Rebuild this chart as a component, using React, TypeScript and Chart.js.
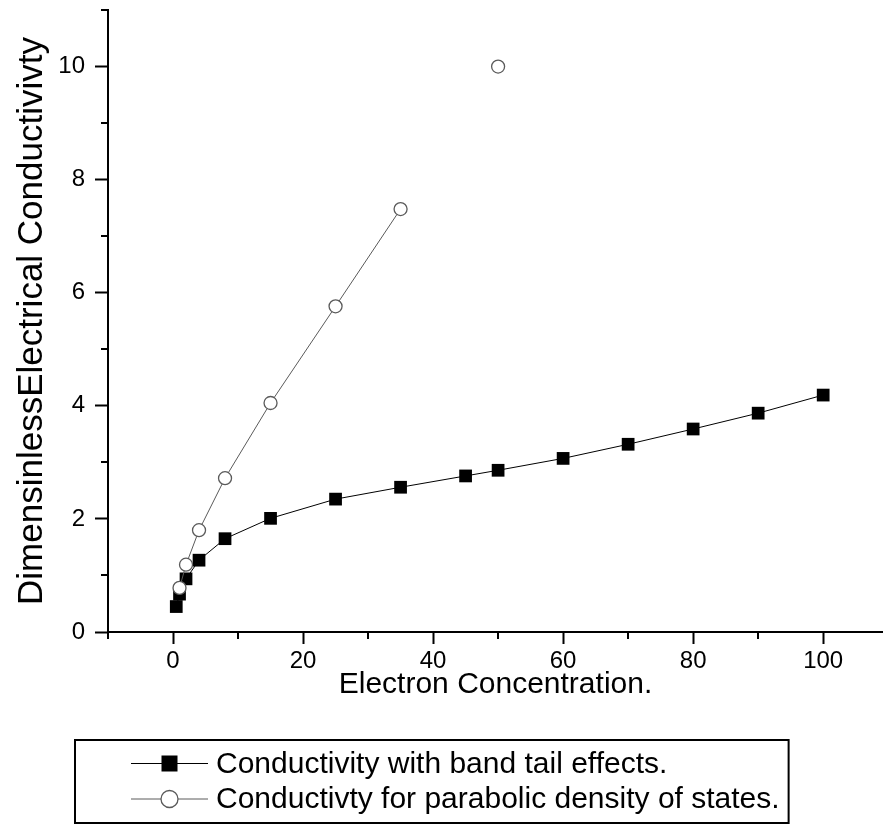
import React, { useEffect, useRef } from "react";
import { Chart, registerables } from "chart.js";

Chart.register(...registerables);

const BAND_X = [0.5, 1, 2, 4, 8, 15, 25, 35, 45, 50, 60, 70, 80, 90, 100];
const BAND_Y = [0.45, 0.67, 0.94, 1.27, 1.65, 2.01, 2.35, 2.56, 2.76, 2.86, 3.07, 3.32, 3.59, 3.87, 4.19];
const PARA_X = [1, 2, 4, 8, 15, 25, 35, 50];
const PARA_Y = [0.78, 1.19, 1.8, 2.72, 4.05, 5.76, 7.48, 10.0];

const X_MAJOR = [0, 20, 40, 60, 80, 100];
const X_MINOR = [-10, 10, 30, 50, 70, 90];
const Y_MAJOR = [0, 2, 4, 6, 8, 10];
const Y_MINOR = [1, 3, 5, 7, 9, 11];

const LEGEND_LABELS = [
  "Conductivity with band tail effects.",
  "Conductivty for parabolic density of states.",
];
const X_TITLE = "Electron Concentration.";
const Y_TITLE = "DimensinlessElectrical Conductivivty";

const FONT = "'Liberation Sans', Arial, Helvetica, sans-serif";
const GREY = "#5a5a5a";

const decorPlugin = {
  id: "decor",
  afterDraw(chart: any) {
    const ctx = chart.ctx as CanvasRenderingContext2D;
    const xs = chart.scales.x;
    const ys = chart.scales.y;
    ctx.save();
    ctx.strokeStyle = "#000";
    ctx.lineWidth = 2;
    for (const v of X_MINOR) {
      const px = Math.round(xs.getPixelForValue(v));
      ctx.beginPath();
      ctx.moveTo(px, xs.top);
      ctx.lineTo(px, xs.top + 7);
      ctx.stroke();
    }
    for (const v of Y_MINOR) {
      const py = Math.round(ys.getPixelForValue(v));
      ctx.beginPath();
      ctx.moveTo(ys.right, py);
      ctx.lineTo(ys.right - 7, py);
      ctx.stroke();
    }

    // legend
    const boxL = 75;
    const boxT = 740;
    const lineX0 = 131;
    const lineX1 = 208;
    const markX = 169.5;
    const textX = 216;
    const rows = [763.5, 799];
    ctx.font = `30px ${FONT}`;
    let maxW = 0;
    for (const t of LEGEND_LABELS) maxW = Math.max(maxW, ctx.measureText(t).width);
    const boxR = textX + maxW + 9;
    ctx.lineWidth = 2;
    ctx.strokeStyle = "#000";
    ctx.strokeRect(boxL, boxT, boxR - boxL, 823 - boxT);

    rows.forEach((ry, i) => {
      ctx.lineWidth = 1;
      ctx.strokeStyle = i === 0 ? "#000" : GREY;
      ctx.beginPath();
      ctx.moveTo(lineX0, ry);
      ctx.lineTo(lineX1, ry);
      ctx.stroke();
      if (i === 0) {
        ctx.fillStyle = "#000";
        ctx.fillRect(markX - 8, ry - 8, 16, 16);
      } else {
        ctx.beginPath();
        ctx.arc(markX, ry, 8.5, 0, Math.PI * 2);
        ctx.fillStyle = "#fff";
        ctx.fill();
        ctx.lineWidth = 1.3;
        ctx.strokeStyle = GREY;
        ctx.stroke();
      }
      ctx.fillStyle = "#000";
      ctx.textBaseline = "middle";
      ctx.textAlign = "left";
      ctx.fillText(LEGEND_LABELS[i], textX, ry + 1);
    });
    ctx.restore();
  },
};

export default function App() {
  const ref = useRef<HTMLCanvasElement | null>(null);

  useEffect(() => {
    document.body.style.margin = "0";
    const canvas = ref.current;
    if (!canvas) return;
    const bandData = BAND_X.map((x, i) => ({ x, y: BAND_Y[i] }));
    const paraData = PARA_X.map((x, i) => ({ x, y: PARA_Y[i] }));
    const chart = new Chart(canvas, {
      type: "line",
      data: {
        datasets: [
          {
            label: LEGEND_LABELS[0],
            data: bandData,
            borderColor: "#000",
            borderWidth: 1,
            pointStyle: "rect",
            pointRadius: 9,
            pointBackgroundColor: "#000",
            pointBorderColor: "#000",
            pointBorderWidth: 0,
            order: 2,
          },
          {
            label: LEGEND_LABELS[1],
            data: paraData,
            borderColor: GREY,
            borderWidth: 1,
            pointStyle: "circle",
            pointRadius: 6.5,
            pointBackgroundColor: "#fff",
            pointBorderColor: GREY,
            pointBorderWidth: 1.3,
            order: 1,
            segment: {
              borderColor: (c: any) =>
                PARA_X[c.p1DataIndex] === 50 ? "rgba(0,0,0,0)" : GREY,
            },
          },
        ],
      },
      options: {
        animation: false,
        responsive: false,
        devicePixelRatio: 1,
        layout: { autoPadding: false, padding: { left: 0, right: 0, top: 10, bottom: 124 } },
        plugins: {
          legend: { display: false },
          tooltip: { enabled: false },
        },
        scales: {
          x: {
            type: "linear",
            min: -10,
            max: 109.2,
            afterFit: (s: any) => {
              s.height = 68;
              s.paddingLeft = 0;
              s.paddingRight = 0;
            },
            afterBuildTicks: (s: any) => {
              s.ticks = [...X_MINOR, ...X_MAJOR]
                .sort((a, b) => a - b)
                .map((v) => ({ value: v }));
            },
            ticks: {
              color: "#000",
              padding: 3,
              maxRotation: 0,
              autoSkip: false,
              font: { family: FONT, size: 24 },
              callback: (v: any) => (X_MAJOR.includes(Number(v)) ? String(v) : ""),
            },
            grid: {
              drawOnChartArea: false,
              drawTicks: true,
              tickLength: 12,
              tickWidth: 2,
              tickColor: (c: any) =>
                c.tick && X_MAJOR.includes(c.tick.value) ? "#000" : "rgba(0,0,0,0)",
            },
            border: { display: true, color: "#000", width: 2 },
            title: {
              display: true,
              text: X_TITLE,
              color: "#000",
              font: { family: FONT, size: 30, lineHeight: 1 },
              padding: { top: 0, bottom: 0 },
            },
          },
          y: {
            type: "linear",
            min: 0,
            max: 11,
            afterFit: (s: any) => {
              s.width = 108;
              s.paddingTop = 0;
              s.paddingBottom = 0;
            },
            afterBuildTicks: (s: any) => {
              s.ticks = [...Y_MAJOR, ...Y_MINOR]
                .sort((a, b) => a - b)
                .map((v) => ({ value: v }));
            },
            ticks: {
              color: "#000",
              padding: 10,
              autoSkip: false,
              font: { family: FONT, size: 24 },
              callback: (v: any) => (Y_MAJOR.includes(Number(v)) ? String(v) : ""),
            },
            grid: {
              drawOnChartArea: false,
              drawTicks: true,
              tickLength: 13,
              tickWidth: 2,
              tickColor: (c: any) =>
                c.tick && Y_MAJOR.includes(c.tick.value) ? "#000" : "rgba(0,0,0,0)",
            },
            border: { display: true, color: "#000", width: 2 },
            title: {
              display: true,
              text: Y_TITLE,
              color: "#000",
              font: { family: FONT, size: 35, lineHeight: 1 },
              padding: { top: 15, bottom: 0 },
            },
          },
        },
      },
      plugins: [decorPlugin],
    } as any);
    return () => chart.destroy();
  }, []);

  return (
    <div style={{ width: 883, height: 824, position: "relative", background: "#fff" }}>
      <canvas
        ref={ref}
        width={883}
        height={824}
        style={{ width: 883, height: 824, display: "block" }}
      />
    </div>
  );
}
